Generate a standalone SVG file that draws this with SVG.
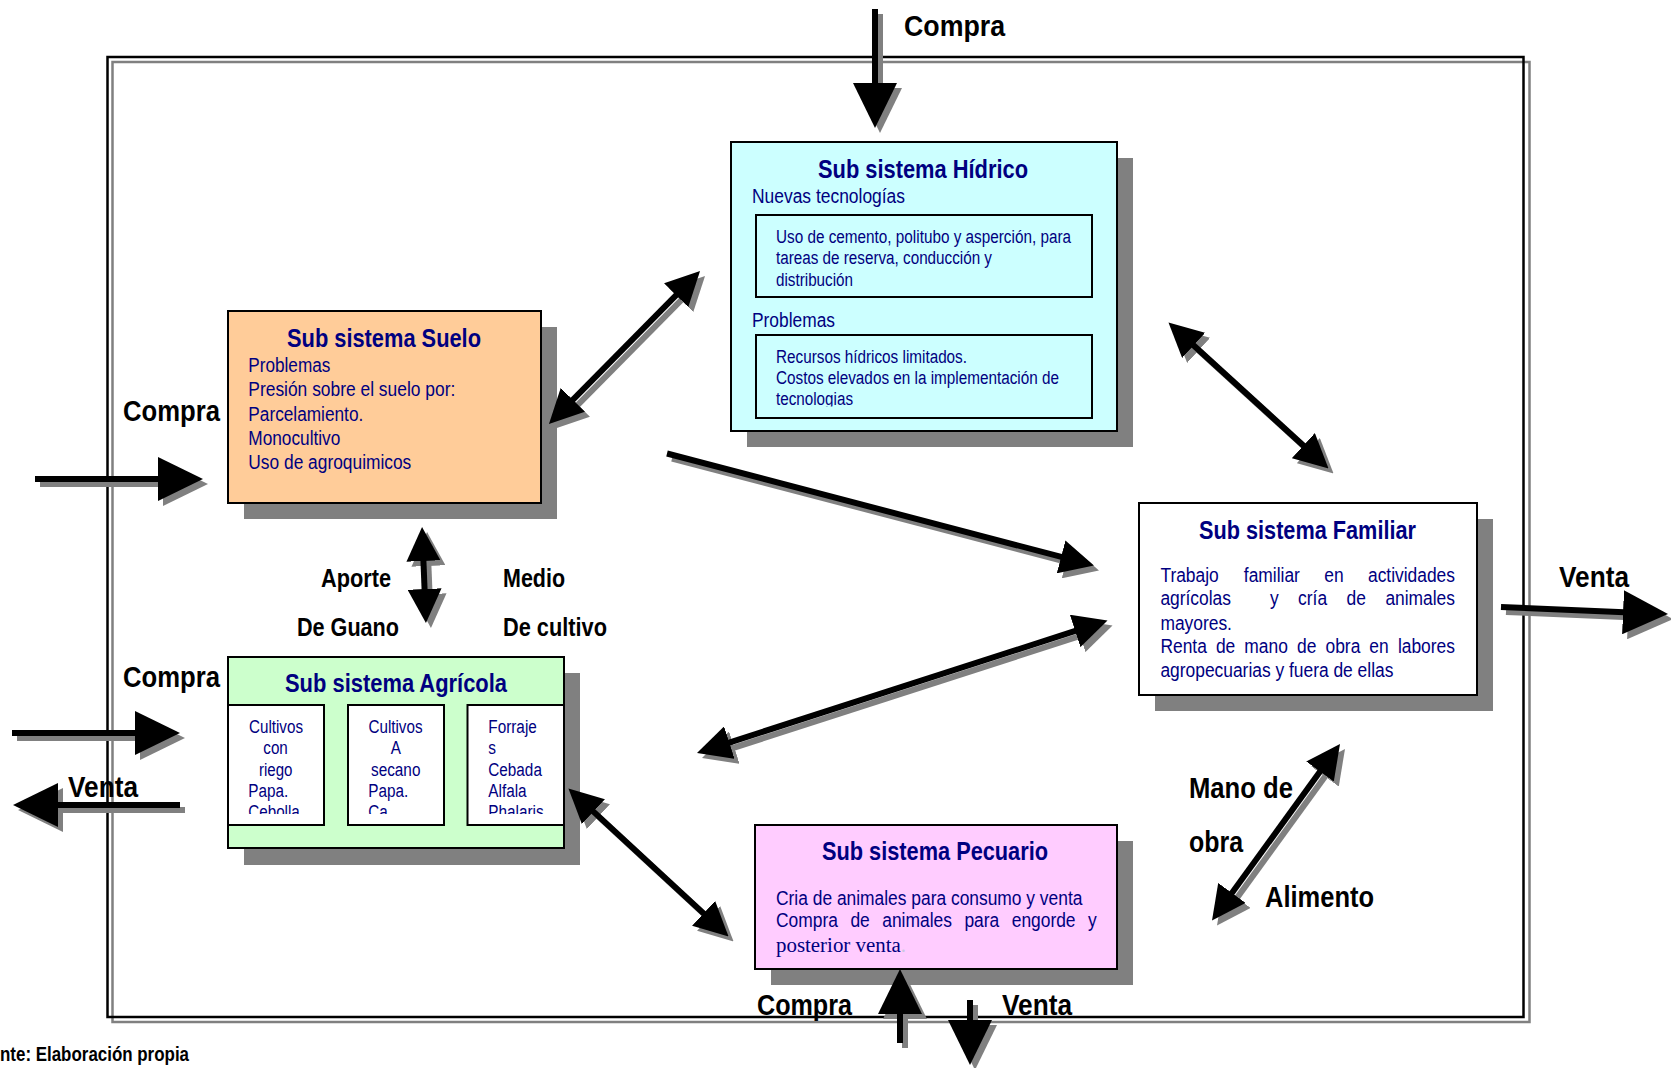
<svg xmlns="http://www.w3.org/2000/svg" width="1671" height="1068" viewBox="0 0 1671 1068">
<style>
.sh{fill:#808080}
.box{stroke:#000;stroke-width:2}
.inner{fill:#fff;stroke:#000;stroke-width:2}
.frame{fill:none;stroke-width:2.5}
.t{font-family:"Liberation Sans",Arial,sans-serif;fill:#000080}
.ttl{font-size:25px;font-weight:bold}
.b20{font-size:20px}
.b17{font-size:17.6px}
.lbl{font-family:"Liberation Sans",Arial,sans-serif;font-weight:bold;fill:#000;font-size:29px}
.lbl2{font-size:25px}
.ln{fill:none;stroke-width:6;stroke-linecap:butt}
.k{stroke:#000}
.g{stroke:#808080}
.k.big1{marker-end:url(#hbk)}
.g.big1{marker-end:url(#hbg)}
.k.med1{marker-end:url(#hmk)}
.g.med1{marker-end:url(#hmg)}
.k.med2{marker-start:url(#hmk);marker-end:url(#hmk)}
.g.med2{marker-start:url(#hmg);marker-end:url(#hmg)}
</style>
<defs>
<marker id="hbk" viewBox="0 0 45 44" refX="25" refY="22" markerWidth="45" markerHeight="44" markerUnits="userSpaceOnUse" orient="auto-start-reverse"><path d="M0,0 L45,22 L0,44 z" fill="#000"/></marker>
<marker id="hbg" viewBox="0 0 45 44" refX="25" refY="22" markerWidth="45" markerHeight="44" markerUnits="userSpaceOnUse" orient="auto-start-reverse"><path d="M0,0 L45,22 L0,44 z" fill="#808080"/></marker>
<marker id="hmk" viewBox="0 0 34 34" refX="18" refY="17" markerWidth="34" markerHeight="34" markerUnits="userSpaceOnUse" orient="auto-start-reverse"><path d="M0,0 L34,17 L0,34 z" fill="#000"/></marker>
<marker id="hmg" viewBox="0 0 34 34" refX="18" refY="17" markerWidth="34" markerHeight="34" markerUnits="userSpaceOnUse" orient="auto-start-reverse"><path d="M0,0 L34,17 L0,34 z" fill="#808080"/></marker>
<clipPath id="clipH"><rect x="756" y="335" width="336" height="71.5"/></clipPath>
<clipPath id="clipA"><rect x="228" y="705" width="336" height="109"/></clipPath>
</defs>

<rect width="1671" height="1068" fill="#fff"/>

<g id="frame">
<rect class="frame g" x="112.5" y="62" width="1417" height="960"/>
<rect class="frame k" x="107.5" y="57" width="1416" height="960"/>
</g>

<g id="hidrico">
<rect class="sh" x="747" y="158" width="386" height="289"/>
<rect class="box" x="731" y="142" width="386" height="289" fill="#CCFFFF"/>
<text class="t ttl" x="818" y="178" textLength="210" lengthAdjust="spacingAndGlyphs">Sub sistema Hídrico</text>
<text class="t b20" x="752" y="203" textLength="153" lengthAdjust="spacingAndGlyphs">Nuevas tecnologías</text>
<rect x="756" y="215" width="336" height="82" fill="none" stroke="#000" stroke-width="2"/>
<text class="t b17" x="776" y="243" textLength="295" lengthAdjust="spacingAndGlyphs">Uso de cemento, politubo y asperción, para</text>
<text class="t b17" x="776" y="264" textLength="216" lengthAdjust="spacingAndGlyphs">tareas de reserva, conducción y</text>
<text class="t b17" x="776" y="285.5" textLength="77" lengthAdjust="spacingAndGlyphs">distribución</text>
<text class="t b20" x="752" y="327" textLength="83" lengthAdjust="spacingAndGlyphs">Problemas</text>
<rect x="756" y="335" width="336" height="83" fill="none" stroke="#000" stroke-width="2"/>
<g clip-path="url(#clipH)">
<text class="t b17" x="776" y="363" textLength="191" lengthAdjust="spacingAndGlyphs">Recursos hídricos limitados.</text>
<text class="t b17" x="776" y="384" textLength="283" lengthAdjust="spacingAndGlyphs">Costos elevados en la implementación de</text>
<text class="t b17" x="776" y="405" textLength="77" lengthAdjust="spacingAndGlyphs">tecnologias</text>
</g>
</g>

<g id="suelo">
<rect class="sh" x="244" y="327" width="313" height="192"/>
<rect class="box" x="228" y="311" width="313" height="192" fill="#FFCC99"/>
<text class="t ttl" x="287" y="346.7" textLength="194" lengthAdjust="spacingAndGlyphs">Sub sistema Suelo</text>
<text class="t b20" x="248.3" y="371.7" textLength="82" lengthAdjust="spacingAndGlyphs">Problemas</text>
<text class="t b20" x="248.3" y="396" textLength="207" lengthAdjust="spacingAndGlyphs">Presión sobre el suelo por:</text>
<text class="t b20" x="248.3" y="420.7" textLength="115" lengthAdjust="spacingAndGlyphs">Parcelamiento.</text>
<text class="t b20" x="248.3" y="445" textLength="92" lengthAdjust="spacingAndGlyphs">Monocultivo</text>
<text class="t b20" x="248.3" y="469.3" textLength="163" lengthAdjust="spacingAndGlyphs">Uso de agroquimicos</text>
</g>

<g id="agricola">
<rect class="sh" x="244" y="673" width="336" height="192"/>
<rect class="box" x="228" y="657" width="336" height="191" fill="#CCFFCC"/>
<text class="t ttl" x="285" y="691.7" textLength="222" lengthAdjust="spacingAndGlyphs">Sub sistema Agrícola</text>
<rect class="inner" x="228" y="705" width="96" height="120"/>
<rect class="inner" x="348" y="705" width="96" height="120"/>
<rect class="inner" x="467.5" y="705" width="96.5" height="120"/>
<g clip-path="url(#clipA)">
<text class="t b17" x="249" y="732.7" textLength="54" lengthAdjust="spacingAndGlyphs">Cultivos</text>
<text class="t b17" x="263.3" y="754" textLength="24.5" lengthAdjust="spacingAndGlyphs">con</text>
<text class="t b17" x="259" y="775.7" textLength="33.5" lengthAdjust="spacingAndGlyphs">riego</text>
<text class="t b17" x="248.3" y="796.7" textLength="40" lengthAdjust="spacingAndGlyphs">Papa.</text>
<text class="t b17" x="248.3" y="818" textLength="51.5" lengthAdjust="spacingAndGlyphs">Cebolla</text>
<text class="t b17" x="368.5" y="732.7" textLength="54" lengthAdjust="spacingAndGlyphs">Cultivos</text>
<text class="t b17" x="390.7" y="754" textLength="10.2" lengthAdjust="spacingAndGlyphs">A</text>
<text class="t b17" x="371" y="775.7" textLength="49.4" lengthAdjust="spacingAndGlyphs">secano</text>
<text class="t b17" x="368.3" y="796.7" textLength="40" lengthAdjust="spacingAndGlyphs">Papa.</text>
<text class="t b17" x="368.3" y="818" textLength="19.5" lengthAdjust="spacingAndGlyphs">Ca</text>
<text class="t b17" x="488.3" y="732.7" textLength="48.5" lengthAdjust="spacingAndGlyphs">Forraje</text>
<text class="t b17" x="488.3" y="754" textLength="7.7" lengthAdjust="spacingAndGlyphs">s</text>
<text class="t b17" x="488.3" y="775.7" textLength="53.6" lengthAdjust="spacingAndGlyphs">Cebada</text>
<text class="t b17" x="488.3" y="796.7" textLength="38.3" lengthAdjust="spacingAndGlyphs">Alfala</text>
<text class="t b17" x="488.3" y="818" textLength="55.3" lengthAdjust="spacingAndGlyphs">Phalaris</text>
</g>
</g>

<g id="familiar">
<rect class="sh" x="1155" y="519" width="338" height="192"/>
<rect class="box" x="1139" y="503" width="338" height="192" fill="#FFFFFF"/>
<text class="t ttl" x="1199" y="539.3" textLength="217" lengthAdjust="spacingAndGlyphs">Sub sistema Familiar</text>
<text class="t b20" transform="matrix(0.87 0 0 1 0 0)">
<tspan x="1333.8" y="581.7">Trabajo</tspan><tspan x="1429.7" y="581.7">familiar</tspan><tspan x="1522.2" y="581.7">en</tspan><tspan x="1572.4" y="581.7">actividades</tspan>
<tspan x="1333.8" y="605.5">agrícolas</tspan><tspan x="1459.7" y="605.5">y</tspan><tspan x="1492.1" y="605.5">cría</tspan><tspan x="1547.8" y="605.5">de</tspan><tspan x="1592.4" y="605.5">animales</tspan>
<tspan x="1333.8" y="630">mayores.</tspan>
<tspan x="1333.8" y="653.5">Renta</tspan><tspan x="1397.6" y="653.5">de</tspan><tspan x="1430.3" y="653.5">mano</tspan><tspan x="1490.8" y="653.5">de</tspan><tspan x="1523.6" y="653.5">obra</tspan><tspan x="1574" y="653.5">en</tspan><tspan x="1606.8" y="653.5">labores</tspan>
<tspan x="1333.8" y="677.5">agropecuarias y fuera de ellas</tspan>
</text>
</g>

<g id="pecuario">
<rect class="sh" x="771" y="841" width="362" height="144"/>
<rect class="box" x="755" y="825" width="362" height="144" fill="#FFCCFF"/>
<text class="t ttl" x="822" y="860" textLength="226" lengthAdjust="spacingAndGlyphs">Sub sistema Pecuario</text>
<text class="t b20" transform="matrix(0.87 0 0 1 0 0)">
<tspan x="891.95" y="905">Cria de animales para consumo y venta</tspan>
<tspan x="891.95" y="927">Compra</tspan><tspan x="977.5" y="927">de</tspan><tspan x="1014.1" y="927">animales</tspan><tspan x="1108.5" y="927">para</tspan><tspan x="1162.9" y="927">engorde</tspan><tspan x="1250.6" y="927">y</tspan>
</text>
<text x="776" y="951.7" font-family="'Liberation Serif','Times New Roman',serif" font-size="20" fill="#000080" textLength="130" lengthAdjust="spacingAndGlyphs">posterior venta<tspan fill="#c8c8e0">.</tspan></text>
</g>

<g id="connectors">
<g id="conn-shadow" transform="translate(5,5)">
<line class="ln g big1" x1="875" y1="9" x2="875" y2="108"/>
<line class="ln g big1" x1="35" y1="479" x2="183" y2="479"/>
<line class="ln g big1" x1="12" y1="733" x2="160" y2="733"/>
<line class="ln g big1" x1="180" y1="805" x2="33" y2="805"/>
<line class="ln g big1" x1="1501" y1="607" x2="1648" y2="613.2"/>
<line class="ln g big1" x1="900" y1="1043" x2="900" y2="989"/>
<line class="ln g big1" x1="970" y1="1000" x2="970" y2="1045"/>
<line class="ln g med2" x1="560.2" y1="412.6" x2="688.8" y2="282.4"/>
<line class="ln g med1" x1="667" y1="453.5" x2="1078.5" y2="561.4"/>
<line class="ln g med2" x1="1092.3" y1="625.4" x2="712.2" y2="748.1"/>
<line class="ln g med2" x1="1180.3" y1="333.3" x2="1316.7" y2="457.7"/>
<line class="ln g med2" x1="580.2" y1="799.4" x2="716.8" y2="925.6"/>
<line class="ln g med2" x1="1330.6" y1="757" x2="1221.4" y2="907.5"/>
<line class="ln g med2" x1="422.7" y1="543" x2="425.3" y2="607"/>
</g>
<g id="conn-main">
<line class="ln k big1" x1="875" y1="9" x2="875" y2="108"/>
<line class="ln k big1" x1="35" y1="479" x2="183" y2="479"/>
<line class="ln k big1" x1="12" y1="733" x2="160" y2="733"/>
<line class="ln k big1" x1="180" y1="805" x2="33" y2="805"/>
<line class="ln k big1" x1="1501" y1="607" x2="1648" y2="613.2"/>
<line class="ln k big1" x1="900" y1="1043" x2="900" y2="989"/>
<line class="ln k big1" x1="970" y1="1000" x2="970" y2="1045"/>
<line class="ln k med2" x1="560.2" y1="412.6" x2="688.8" y2="282.4"/>
<line class="ln k med1" x1="667" y1="453.5" x2="1078.5" y2="561.4"/>
<line class="ln k med2" x1="1092.3" y1="625.4" x2="712.2" y2="748.1"/>
<line class="ln k med2" x1="1180.3" y1="333.3" x2="1316.7" y2="457.7"/>
<line class="ln k med2" x1="580.2" y1="799.4" x2="716.8" y2="925.6"/>
<line class="ln k med2" x1="1330.6" y1="757" x2="1221.4" y2="907.5"/>
<line class="ln k med2" x1="422.7" y1="543" x2="425.3" y2="607"/>
</g>
</g>

<g id="labels">
<text class="lbl" x="904" y="36" textLength="101" lengthAdjust="spacingAndGlyphs">Compra</text>
<text class="lbl" x="123" y="421" textLength="97" lengthAdjust="spacingAndGlyphs">Compra</text>
<text class="lbl" x="123" y="687" textLength="97" lengthAdjust="spacingAndGlyphs">Compra</text>
<text class="lbl" x="68" y="797" textLength="70" lengthAdjust="spacingAndGlyphs">Venta</text>
<text class="lbl lbl2" x="321" y="587" textLength="70" lengthAdjust="spacingAndGlyphs">Aporte</text>
<text class="lbl lbl2" x="297" y="636" textLength="102" lengthAdjust="spacingAndGlyphs">De Guano</text>
<text class="lbl lbl2" x="503" y="587" textLength="62" lengthAdjust="spacingAndGlyphs">Medio</text>
<text class="lbl lbl2" x="503" y="636" textLength="104" lengthAdjust="spacingAndGlyphs">De cultivo</text>
<text class="lbl" x="1559" y="587" textLength="70" lengthAdjust="spacingAndGlyphs">Venta</text>
<text class="lbl" x="1189" y="798" textLength="104" lengthAdjust="spacingAndGlyphs">Mano de</text>
<text class="lbl" x="1189" y="852" textLength="54" lengthAdjust="spacingAndGlyphs">obra</text>
<text class="lbl" x="1265" y="907" textLength="109" lengthAdjust="spacingAndGlyphs">Alimento</text>
<text class="lbl" x="757" y="1015" textLength="95" lengthAdjust="spacingAndGlyphs">Compra</text>
<text class="lbl" x="1002" y="1015" textLength="70" lengthAdjust="spacingAndGlyphs">Venta</text>
<text class="lbl" x="0" y="1061" font-size="19.5" style="font-size:19.5px" textLength="189" lengthAdjust="spacingAndGlyphs">nte: Elaboración propia</text>
</g>
</svg>
